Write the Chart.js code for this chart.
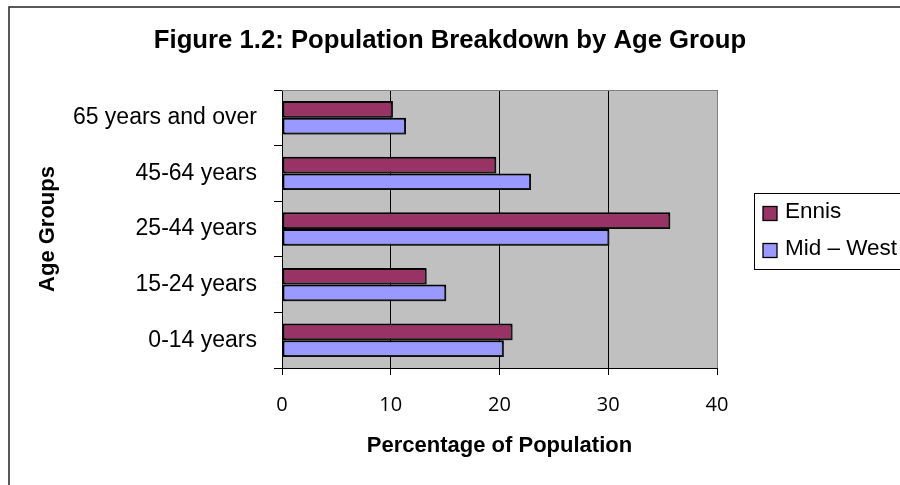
<!DOCTYPE html>
<html>
<head>
<meta charset="utf-8">
<script src="https://cdn.jsdelivr.net/npm/chart.js@4/dist/chart.umd.min.js"></script>
<style>
  html, body { margin: 0; padding: 0; background: #ffffff; }
  #wrap { width: 900px; height: 485px; }
</style>
</head>
<body>
<div id="wrap"><canvas id="c" width="900" height="485"></canvas></div>
<script>
const categories = ['65 years and over', '45-64 years', '25-44 years', '15-24 years', '0-14 years'];
const ennis = [10.2, 19.7, 35.7, 13.3, 21.2];
const midWest = [11.4, 22.9, 30.1, 15.1, 20.4];
const seriesNames = ['Ennis', 'Mid \u2013 West'];
const xTicks = [0, 10, 20, 30, 40];

const SANS = '"Liberation Sans", Arial, sans-serif';
const TICKFONT = '"Open Sans", "Noto Sans", sans-serif';
Chart.defaults.color = '#000';

const frameAndBg = {
  id: 'frameAndBg',
  beforeDraw(chart) {
    const { ctx, chartArea: a } = chart;
    ctx.save();
    ctx.fillStyle = '#ffffff';
    ctx.fillRect(0, 0, chart.width, chart.height);
    ctx.fillStyle = '#C0C0C0';
    ctx.fillRect(a.left, a.top, a.right - a.left, a.bottom - a.top);
    // outer frame (left and top edges)
    ctx.strokeStyle = '#222';
    ctx.lineWidth = 1.5;
    ctx.beginPath();
    ctx.moveTo(9, chart.height);
    ctx.lineTo(9, 7);
    ctx.lineTo(chart.width, 7);
    ctx.stroke();
    ctx.restore();
  },
  beforeDatasetsDraw(chart) {
    const { ctx, chartArea: a } = chart;
    ctx.save();
    ctx.strokeStyle = '#808080';
    ctx.lineWidth = 1;
    ctx.beginPath();
    ctx.moveTo(a.left, a.top + 0.5);
    ctx.lineTo(a.right + 0.5, a.top + 0.5);
    ctx.lineTo(a.right + 0.5, a.bottom);
    ctx.stroke();
    ctx.restore();
    // bar shadow
    ctx.save();
    ctx.shadowColor = 'rgba(60,60,60,0.45)';
    ctx.shadowOffsetX = 1.5;
    ctx.shadowOffsetY = 1.5;
    ctx.shadowBlur = 0;
  },
  afterDatasetsDraw(chart) {
    chart.ctx.restore();
  },
  afterDraw(chart) {
    const { ctx, chartArea: a } = chart;
    const left = a.right + 37;
    const top = 193;
    ctx.save();
    ctx.fillStyle = '#fff';
    ctx.fillRect(left, top, chart.width - left + 5, 76);
    ctx.strokeStyle = '#000';
    ctx.lineWidth = 1;
    ctx.strokeRect(left + 0.5, top + 0.5, chart.width - left + 5, 76);
    ctx.font = '22.5px ' + SANS;
    ctx.textBaseline = 'middle';
    ctx.textAlign = 'left';
    const rows = [213.5, 250.5];
    chart.data.datasets.forEach((ds, i) => {
      const cy = rows[i];
      ctx.fillStyle = ds.backgroundColor;
      ctx.fillRect(left + 9, cy - 7, 14, 14);
      ctx.strokeStyle = '#000';
      ctx.lineWidth = 1.3;
      ctx.strokeRect(left + 9, cy - 7, 14, 14);
      ctx.fillStyle = '#000';
      ctx.fillText(ds.label, left + 31, cy - 1.5);
    });
    ctx.restore();
  }
};

new Chart(document.getElementById('c'), {
  type: 'bar',
  data: {
    labels: categories,
    datasets: [
      { label: seriesNames[0], data: ennis, backgroundColor: '#993366', borderColor: '#000', borderWidth: 2, borderSkipped: false, categoryPercentage: 0.6, barPercentage: 1.0 },
      { label: seriesNames[1], data: midWest, backgroundColor: '#9999FF', borderColor: '#000', borderWidth: 2, borderSkipped: false, categoryPercentage: 0.6, barPercentage: 1.0 }
    ]
  },
  options: {
    indexAxis: 'y',
    responsive: false,
    animation: false,
    layout: { padding: 0 },
    plugins: {
      legend: { display: false },
      tooltip: { enabled: false },
      title: {
        display: true,
        text: 'Figure 1.2: Population Breakdown by Age Group',
        color: '#000',
        font: { family: SANS, size: 25.7, weight: 'bold', lineHeight: 1.2 },
        padding: { top: 25.5, bottom: 33.66 }
      }
    },
    scales: {
      x: {
        type: 'linear',
        position: 'bottom',
        min: 0,
        max: 40,
        afterBuildTicks: (s) => { s.ticks = xTicks.map(v => ({ value: v })); },
        ticks: { font: { family: TICKFONT, size: 20 }, color: '#000', padding: 18 },
        grid: {
          color: (c) => (c.tick && c.tick.value === 40) ? '#808080' : '#000',
          lineWidth: 1,
          tickLength: 7,
          tickColor: '#000'
        },
        border: { color: '#000', width: 1 },
        title: {
          display: true,
          text: 'Percentage of Population',
          color: '#000',
          font: { family: SANS, size: 22, weight: 'bold', lineHeight: 1.2 },
          padding: { top: 0, bottom: 25.6 }
        },
        afterFit: (s) => { s.height = 117; }
      },
      y: {
        type: 'category',
        position: 'left',
        offset: true,
        ticks: { font: { family: SANS, size: 23 }, color: '#000', padding: 17 },
        grid: { offset: true, drawOnChartArea: false, tickLength: 8, tickColor: '#000', color: '#000' },
        border: { color: '#000', width: 1 },
        title: {
          display: true,
          text: 'Age Groups',
          color: '#000',
          font: { family: SANS, size: 22, weight: 'bold', lineHeight: 1.2 },
          padding: { top: 35, bottom: 0 }
        },
        afterFit: (s) => { s.width = 282; }
      },
      legendSpace: {
        type: 'linear',
        position: 'right',
        display: true,
        ticks: { display: false },
        grid: { display: false },
        border: { display: false },
        afterFit: (s) => { s.width = 183; }
      }
    }
  },
  plugins: [frameAndBg]
});
</script>
</body>
</html>
